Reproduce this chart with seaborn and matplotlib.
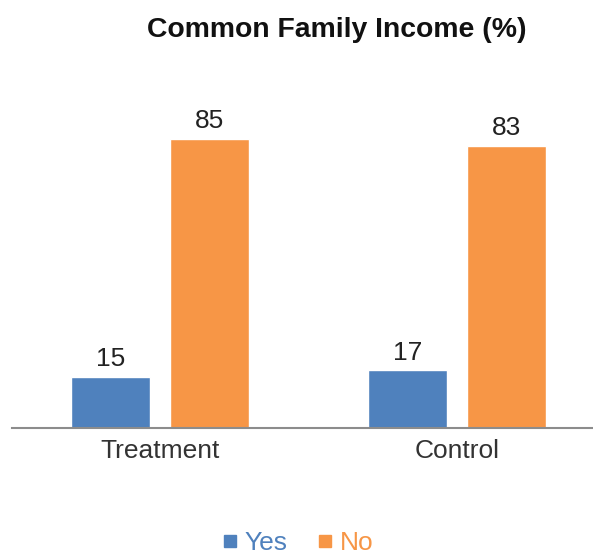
import matplotlib
matplotlib.use("Agg")
import matplotlib.pyplot as plt
from matplotlib.lines import Line2D
import seaborn as sns
import pandas as pd

groups = ["Treatment", "Control"]
answers = ["Yes", "No"]
yes_values = [15, 17]
no_values = [85, 83]
colors = {"Yes": "#4F81BD", "No": "#F79646"}
title = "Common Family Income (%)"

df = pd.DataFrame({
    "group": groups * 2,
    "answer": [answers[0]] * len(groups) + [answers[1]] * len(groups),
    "value": yes_values + no_values,
})

sns.set_theme(style="white")
plt.rcParams["font.family"] = ["Liberation Sans", "DejaVu Sans"]

fig = plt.figure(figsize=(5.93, 5.54), dpi=100)
ax = fig.add_axes([12 / 593, (554 - 428) / 554, 581 / 593, 340 / 554])

sns.barplot(data=df, x="group", y="value", hue="answer", order=groups,
            hue_order=answers, palette=colors, width=0.667, gap=0.2,
            saturation=1, legend=False, ax=ax)

for cont in ax.containers:
    ax.bar_label(cont, fmt="%d", padding=4, fontsize=19, color="#222222")

ax.set_xlim(-0.5, 1.46)
ax.set_ylim(0, 100)
ax.set_xlabel("")
ax.set_ylabel("")
ax.set_yticks([])
ax.tick_params(axis="x", length=0, pad=8, labelsize=19, labelcolor="#333333")
for side in ["left", "right", "top"]:
    ax.spines[side].set_visible(False)
ax.spines["bottom"].set_color("#8c8c8c")
ax.spines["bottom"].set_linewidth(1.5)

fig.text(337 / 593, 1 - 30 / 554, title, ha="center", va="center",
         fontsize=20.4, fontweight="bold", color="#111111")

handles = [Line2D([], [], marker="s", linestyle="", markersize=8,
                  color=colors[a]) for a in answers]
leg = fig.legend(handles, answers, loc="center", bbox_to_anchor=(297 / 593, 1 - 543 / 554),
                 ncol=2, frameon=False, fontsize=19, handletextpad=0.2,
                 columnspacing=1.1, handlelength=0.7, borderpad=0.1)
for txt, a in zip(leg.get_texts(), answers):
    txt.set_color(colors[a])

fig.savefig("out.png", dpi=100)
